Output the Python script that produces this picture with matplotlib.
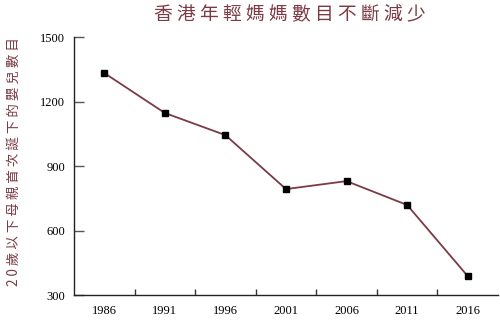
import matplotlib
matplotlib.use("Agg")
import matplotlib.pyplot as plt
import numpy as np

years = ["1986", "1991", "1996", "2001", "2006", "2011", "2016"]
births = [1333, 1147, 1044, 793, 830, 719, 388]
yticks = [300, 600, 900, 1200, 1500]

title = "香港年輕媽媽數目不斷減少"
ylabel = "20歲以下母親首次誕下的嬰兒數目"

red = "#7b3a44"
plt.rcParams['font.family'] = ['Liberation Serif', 'Noto Sans CJK TC', 'DejaVu Sans']

fig = plt.figure(figsize=(5, 3.2), dpi=100)
ax = fig.add_axes([0.148, 0.078, 0.848, 0.806])

x = np.arange(len(years))
ax.plot(x, births, color=red, linewidth=1.3, marker="s", markersize=5,
        markerfacecolor="black", markeredgecolor="black")

ax.set_xlim(-0.5, len(years) - 0.5)
ax.set_ylim(300, 1500)
ax.set_yticks(yticks)
ax.set_yticklabels([str(v) for v in yticks], fontsize=9)
ax.set_xticks(x)
ax.set_xticklabels(years, fontsize=9)
ax.set_xticks(np.arange(0.5, len(years) - 0.5), minor=True)

ax.tick_params(axis="y", direction="in", length=7, width=1, color="#555555", pad=6.5)
ax.tick_params(axis="x", which="major", length=0, pad=7)
ax.tick_params(axis="x", which="minor", direction="in", length=4.5, width=1, color="#333333")

for s in ["top", "right"]:
    ax.spines[s].set_visible(False)
for s in ["left", "bottom"]:
    ax.spines[s].set_linewidth(1)
    ax.spines[s].set_color("#222222")

fig.text(0.58, 0.953, " ".join(title), ha="center", va="center",
         fontsize=13.5, color=red, family=['Noto Sans CJK TC', 'DejaVu Sans'])
fig.text(0.028, 0.494, " ".join(ylabel), ha="center", va="center", rotation=90,
         fontsize=9.7, color=red, family=['Noto Sans CJK TC', 'DejaVu Sans'])

fig.savefig("out.png", dpi=100)
